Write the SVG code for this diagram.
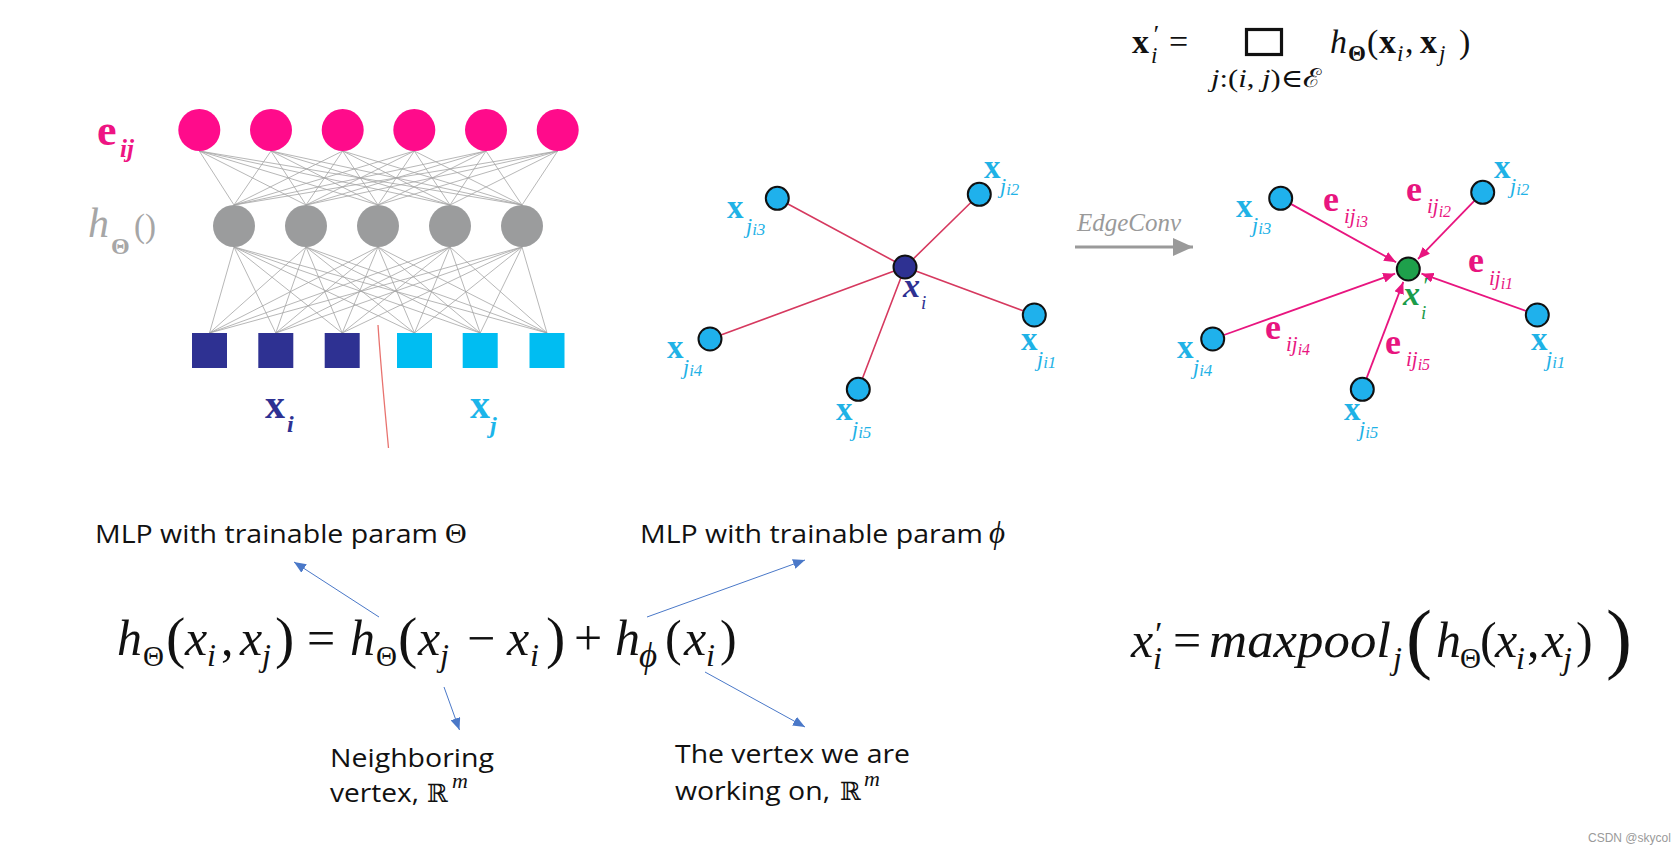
<svg xmlns="http://www.w3.org/2000/svg" width="1678" height="853" viewBox="0 0 1678 853">
<style>
.bg{fill:#ffffff}
.nnl{stroke:#a4a4a4;stroke-width:0.8;fill:none}
.pink{fill:#ff0b8b}
.gray{fill:#9b9c9d}
.dsq{fill:#2e3192}
.csq{fill:#00bdf2}
.edge{stroke:#d6395f;stroke-width:1.6;fill:none}
.pedge{stroke:#e8157f;stroke-width:1.8;fill:none}
.blue{stroke:#4a78c8;stroke-width:1;fill:none}
.nb{fill:#1fb1ec;stroke:#111;stroke-width:2}
.serif{font-family:"Liberation Serif","DejaVu Serif",serif}
.lab{font-family:"Liberation Serif","DejaVu Serif",serif;font-weight:bold;font-size:33px;fill:#1fb2e6}
.sub{font-family:"Liberation Serif","DejaVu Serif",serif;font-style:italic;font-size:22px;fill:#1fb2e6}
.elab{font-family:"Liberation Serif","DejaVu Serif",serif;font-weight:bold;font-size:36px;fill:#e8157f}
.esub{font-family:"Liberation Serif","DejaVu Serif",serif;font-style:italic;font-size:21px;fill:#e8157f}
.sans{font-family:"Open Sans","Noto Sans","Liberation Sans",sans-serif;font-size:26px;fill:#111}
.m{font-family:"Liberation Serif","DejaVu Serif",serif;font-style:italic;font-size:50px;fill:#111}
.mu{font-family:"Liberation Serif","DejaVu Serif",serif;font-size:50px;fill:#111}
.ms{font-family:"Liberation Serif","DejaVu Serif",serif;font-style:italic;font-size:32px;fill:#111}
.msu{font-family:"Liberation Serif","DejaVu Serif",serif;font-size:29px;fill:#111}
.tf{font-family:"Liberation Serif","DejaVu Serif",serif;font-size:34px;fill:#111}
.tfs{font-family:"Liberation Serif","DejaVu Serif",serif;font-size:23px;fill:#111}
</style>
<defs>
<marker id="ab" markerUnits="userSpaceOnUse" markerWidth="13" markerHeight="10" refX="12" refY="5" orient="auto"><path d="M0,0 L12,5 L0,10 z" fill="#4a78c8"/></marker>
<marker id="ap" markerUnits="userSpaceOnUse" markerWidth="13" markerHeight="10" refX="12" refY="5" orient="auto"><path d="M0,0 L12,5 L0,10 z" fill="#e8157f"/></marker>
<marker id="ag" markerUnits="userSpaceOnUse" markerWidth="22" markerHeight="18" refX="20" refY="9" orient="auto"><path d="M0,0 L20,9 L0,18 z" fill="#9a9a9a"/></marker>
</defs>
<rect class="bg" x="0" y="0" width="1678" height="853"/>

<!-- Neural network connections -->
<g id="nn-connectors">
<path class="nnl" d="M199.3,151 L234,205 M199.3,151 L306,205 M199.3,151 L378,205 M199.3,151 L450,205 M199.3,151 L522,205
M271,151 L234,205 M271,151 L306,205 M271,151 L378,205 M271,151 L450,205 M271,151 L522,205
M342.7,151 L234,205 M342.7,151 L306,205 M342.7,151 L378,205 M342.7,151 L450,205 M342.7,151 L522,205
M414.3,151 L234,205 M414.3,151 L306,205 M414.3,151 L378,205 M414.3,151 L450,205 M414.3,151 L522,205
M486,151 L234,205 M486,151 L306,205 M486,151 L378,205 M486,151 L450,205 M486,151 L522,205
M557.7,151 L234,205 M557.7,151 L306,205 M557.7,151 L378,205 M557.7,151 L450,205 M557.7,151 L522,205"/>
<path class="nnl" d="M234,247 L209.5,333 M234,247 L275.8,333 M234,247 L342.2,333 M234,247 L414.5,333 M234,247 L480.2,333 M234,247 L547,333
M306,247 L209.5,333 M306,247 L275.8,333 M306,247 L342.2,333 M306,247 L414.5,333 M306,247 L480.2,333 M306,247 L547,333
M378,247 L209.5,333 M378,247 L275.8,333 M378,247 L342.2,333 M378,247 L414.5,333 M378,247 L480.2,333 M378,247 L547,333
M450,247 L209.5,333 M450,247 L275.8,333 M450,247 L342.2,333 M450,247 L414.5,333 M450,247 L480.2,333 M450,247 L547,333
M522,247 L209.5,333 M522,247 L275.8,333 M522,247 L342.2,333 M522,247 L414.5,333 M522,247 L480.2,333 M522,247 L547,333"/>
</g>

<!-- Neural network nodes -->
<g id="nn-edge-layer">
<circle class="pink" cx="199.3" cy="130" r="21"/>
<circle class="pink" cx="271" cy="130" r="21"/>
<circle class="pink" cx="342.7" cy="130" r="21"/>
<circle class="pink" cx="414.3" cy="130" r="21"/>
<circle class="pink" cx="486" cy="130" r="21"/>
<circle class="pink" cx="557.7" cy="130" r="21"/>
</g>
<g id="nn-hidden-layer">
<circle class="gray" cx="234" cy="226" r="21"/>
<circle class="gray" cx="306" cy="226" r="21"/>
<circle class="gray" cx="378" cy="226" r="21"/>
<circle class="gray" cx="450" cy="226" r="21"/>
<circle class="gray" cx="522" cy="226" r="21"/>
</g>
<g id="nn-input-layer">
<rect class="dsq" x="192" y="333" width="35" height="35"/>
<rect class="dsq" x="258.3" y="333" width="35" height="35"/>
<rect class="dsq" x="324.7" y="333" width="35" height="35"/>
<rect class="csq" x="397" y="333" width="35" height="35"/>
<rect class="csq" x="462.7" y="333" width="35" height="35"/>
<rect class="csq" x="529.5" y="333" width="35" height="35"/>
</g>
<g id="nn-labels">
<text class="serif" x="97" y="145" style="font-size:44px;font-weight:bold;fill:#ee1483">e</text>
<text class="serif" x="120" y="157" style="font-size:25px;font-weight:bold;font-style:italic;fill:#ee1483">ij</text>
<text class="serif" x="88" y="237" style="font-size:42px;font-style:italic;fill:#a6a6a6">h</text>
<text class="serif" x="111" y="254" style="font-size:24px;font-weight:bold;fill:#a6a6a6">Θ</text>
<text class="serif" x="134" y="237" style="font-size:33px;fill:#a6a6a6">()</text>
<text class="serif" x="265" y="418" style="font-size:40px;font-weight:bold;fill:#2e3192">x</text>
<text class="serif" x="287" y="432" style="font-size:24px;font-weight:bold;font-style:italic;fill:#2e3192">i</text>
<text class="serif" x="470" y="418" style="font-size:40px;font-weight:bold;fill:#1cb5ea">x</text>
<text class="serif" x="490" y="433" style="font-size:24px;font-weight:bold;font-style:italic;fill:#1cb5ea">j</text>
</g>
<path id="red-mark" d="M378,325 C381,370 385,410 388.5,448" stroke="#e8736f" stroke-width="1.3" fill="none"/>

<!-- Left graph -->
<g id="left-graph-edges">
<path class="edge" d="M905,267 L777.3,198.3 M905,267 L979.3,194.3 M905,267 L1034.3,315 M905,267 L710,339 M905,267 L858.3,389.3"/>
</g>
<g id="left-graph-nodes">
<g id="l-center"><circle cx="905" cy="267" r="11.5" fill="#2e3192" stroke="#111" stroke-width="2"/>
<text class="serif" x="903" y="297" style="font-size:34px;font-weight:bold;font-style:italic;fill:#2e3192">x</text>
<text class="serif" x="921" y="309" style="font-size:19px;font-style:italic;fill:#2e3192">i</text></g>
<g id="l-n3"><circle class="nb" cx="777.3" cy="198.3" r="11.5"/>
<text class="lab" x="727" y="218">x</text><text class="sub" x="746" y="233">j<tspan style="font-size:17px" dy="2">i3</tspan></text></g>
<g id="l-n2"><circle class="nb" cx="979.3" cy="194.3" r="11.5"/>
<text class="lab" x="984" y="178">x</text><text class="sub" x="1000" y="193">j<tspan style="font-size:17px" dy="2">i2</tspan></text></g>
<g id="l-n1"><circle class="nb" cx="1034.3" cy="315" r="11.5"/>
<text class="lab" x="1021" y="350">x</text><text class="sub" x="1037" y="366">j<tspan style="font-size:17px" dy="2">i1</tspan></text></g>
<g id="l-n4"><circle class="nb" cx="710" cy="339" r="11.5"/>
<text class="lab" x="667" y="358">x</text><text class="sub" x="683" y="374">j<tspan style="font-size:17px" dy="2">i4</tspan></text></g>
<g id="l-n5"><circle class="nb" cx="858.3" cy="389.3" r="11.5"/>
<text class="lab" x="836" y="420">x</text><text class="sub" x="852" y="436">j<tspan style="font-size:17px" dy="2">i5</tspan></text></g>
</g>

<!-- EdgeConv arrow -->
<g id="edgeconv">
<text class="serif" x="1077" y="231" style="font-size:25px;font-style:italic;fill:#9a9a9a">EdgeConv</text>
<line x1="1075" y1="247" x2="1193" y2="247" stroke="#9a9a9a" stroke-width="3" marker-end="url(#ag)"/>
</g>

<!-- Right graph -->
<g id="right-graph-edges">
<line class="pedge" x1="1291.2" y1="204.1" x2="1396.1" y2="262.2" marker-end="url(#ap)"/>
<line class="pedge" x1="1474.3" y1="200.9" x2="1418" y2="259" marker-end="url(#ap)"/>
<line class="pedge" x1="1526" y1="311" x2="1421.5" y2="273.7" marker-end="url(#ap)"/>
<line class="pedge" x1="1224" y1="335" x2="1395.1" y2="273.7" marker-end="url(#ap)"/>
<line class="pedge" x1="1366.6" y1="378.1" x2="1403.3" y2="281.9" marker-end="url(#ap)"/>
</g>
<g id="right-graph-nodes">
<g id="r-center"><circle cx="1408.3" cy="269" r="11.5" fill="#1ea04b" stroke="#111" stroke-width="2"/>
<text class="serif" x="1403" y="305" style="font-size:34px;font-weight:bold;font-style:italic;fill:#1a9c4a">x</text>
<text class="serif" x="1422" y="293" style="font-size:24px;font-style:italic;fill:#1a9c4a">′</text>
<text class="serif" x="1421" y="319" style="font-size:19px;font-style:italic;fill:#1a9c4a">i</text></g>
<g id="r-n3"><circle class="nb" cx="1280.7" cy="198.3" r="11.5"/>
<text class="lab" x="1236" y="217">x</text><text class="sub" x="1252" y="232">j<tspan style="font-size:17px" dy="2">i3</tspan></text></g>
<g id="r-n2"><circle class="nb" cx="1482.7" cy="192.3" r="11.5"/>
<text class="lab" x="1494" y="178">x</text><text class="sub" x="1510" y="193">j<tspan style="font-size:17px" dy="2">i2</tspan></text></g>
<g id="r-n1"><circle class="nb" cx="1537.3" cy="315" r="11.5"/>
<text class="lab" x="1531" y="350">x</text><text class="sub" x="1546" y="366">j<tspan style="font-size:17px" dy="2">i1</tspan></text></g>
<g id="r-n4"><circle class="nb" cx="1212.7" cy="339" r="11.5"/>
<text class="lab" x="1177" y="358">x</text><text class="sub" x="1193" y="374">j<tspan style="font-size:17px" dy="2">i4</tspan></text></g>
<g id="r-n5"><circle class="nb" cx="1362.3" cy="389.3" r="11.5"/>
<text class="lab" x="1344" y="420">x</text><text class="sub" x="1359" y="436">j<tspan style="font-size:17px" dy="2">i5</tspan></text></g>
</g>
<g id="right-edge-labels">
<text class="elab" x="1323" y="211">e</text><text class="esub" x="1344" y="223">ij<tspan style="font-size:16px" dy="4">i3</tspan></text>
<text class="elab" x="1406" y="201">e</text><text class="esub" x="1427" y="213">ij<tspan style="font-size:16px" dy="4">i2</tspan></text>
<text class="elab" x="1468" y="272">e</text><text class="esub" x="1489" y="285">ij<tspan style="font-size:16px" dy="4">i1</tspan></text>
<text class="elab" x="1265" y="339">e</text><text class="esub" x="1286" y="351">ij<tspan style="font-size:16px" dy="4">i4</tspan></text>
<text class="elab" x="1385" y="354">e</text><text class="esub" x="1406" y="366">ij<tspan style="font-size:16px" dy="4">i5</tspan></text>
</g>

<!-- Top formula -->
<g id="top-formula">
<text class="tf" x="1132" y="53" style="font-weight:bold">x</text>
<text class="tf" x="1152" y="43" style="font-size:26px;font-style:italic">′</text>
<text class="tfs" x="1151" y="63" style="font-style:italic">i</text>
<text class="tf" x="1169" y="53">=</text>
<rect x="1246.5" y="29.5" width="35" height="25" fill="none" stroke="#111" stroke-width="3.2"/>
<text class="tf" x="1330" y="53" style="font-style:italic">h</text>
<text class="tfs" x="1348" y="61" style="font-weight:bold">Θ</text>
<text class="tf" x="1367" y="53">(</text>
<text class="tf" x="1379" y="53" style="font-weight:bold">x</text>
<text class="tfs" x="1397" y="61" style="font-style:italic">i</text>
<text class="tf" x="1405" y="53">,</text>
<text class="tf" x="1420" y="53" style="font-weight:bold">x</text>
<text class="tfs" x="1439" y="61" style="font-style:italic">j</text>
<text class="tf" x="1459" y="53">)</text>
<text class="tfs" x="1211" y="87" textLength="111" lengthAdjust="spacingAndGlyphs" style="font-size:26px;font-style:italic">j<tspan style="font-style:normal">:(</tspan>i<tspan style="font-style:normal">, </tspan>j<tspan style="font-style:normal">)∈ℰ</tspan></text>
</g>

<!-- Bottom-left formula -->
<g id="main-formula">
<text class="m" x="117" y="655">h</text>
<text class="msu" x="143" y="666">Θ</text>
<text class="mu" x="166" y="657" style="font-size:58px">(</text>
<text class="m" x="185" y="655">x</text>
<text class="ms" x="207" y="666">i</text>
<text class="mu" x="221" y="655">,</text>
<text class="m" x="240" y="655">x</text>
<text class="ms" x="262" y="666">j</text>
<text class="mu" x="275" y="657" style="font-size:58px">)</text>
<text class="mu" x="307" y="655">=</text>
<text class="m" x="350" y="655">h</text>
<text class="msu" x="376" y="666">Θ</text>
<text class="mu" x="398" y="657" style="font-size:58px">(</text>
<text class="m" x="418" y="655">x</text>
<text class="ms" x="440" y="666">j</text>
<text class="mu" x="467" y="655">−</text>
<text class="m" x="507" y="655">x</text>
<text class="ms" x="530" y="666">i</text>
<text class="mu" x="546" y="657" style="font-size:58px">)</text>
<text class="mu" x="574" y="655">+</text>
<text class="m" x="615" y="655">h</text>
<text class="ms" x="639" y="667" style="font-size:35px">ϕ</text>
<text class="mu" x="665" y="655">(</text>
<text class="m" x="684" y="655">x</text>
<text class="ms" x="706" y="666">i</text>
<text class="mu" x="720" y="655">)</text>
</g>
<g id="annot-theta">
<text class="sans" x="95" y="543" textLength="343" lengthAdjust="spacingAndGlyphs">MLP with trainable param</text>
<text class="serif" x="445" y="543" style="font-size:30px;fill:#111">Θ</text>
</g>
<g id="annot-phi">
<text class="sans" x="640" y="543" textLength="343" lengthAdjust="spacingAndGlyphs">MLP with trainable param</text>
<text class="serif" x="989" y="543" style="font-size:31px;font-style:italic;fill:#111">ϕ</text>
</g>
<g id="annot-neighbor">
<text class="sans" x="330" y="767" textLength="164" lengthAdjust="spacingAndGlyphs">Neighboring</text>
<text class="sans" x="330" y="802" textLength="89" lengthAdjust="spacingAndGlyphs">vertex,</text>
<text x="427" y="802" font-family="DejaVu Serif,serif" font-size="25" fill="#111">ℝ</text>
<text class="serif" x="452" y="788" style="font-size:22px;font-style:italic;fill:#111">m</text>
</g>
<g id="annot-vertex">
<text class="sans" x="675" y="763" textLength="235" lengthAdjust="spacingAndGlyphs">The vertex we are</text>
<text class="sans" x="675" y="800" textLength="155" lengthAdjust="spacingAndGlyphs">working on,</text>
<text x="840" y="800" font-family="DejaVu Serif,serif" font-size="25" fill="#111">ℝ</text>
<text class="serif" x="864" y="786" style="font-size:22px;font-style:italic;fill:#111">m</text>
</g>
<g id="annot-arrows">
<line class="blue" x1="379" y1="617" x2="294" y2="562" marker-end="url(#ab)"/>
<line class="blue" x1="647" y1="617" x2="805" y2="560" marker-end="url(#ab)"/>
<line class="blue" x1="444" y1="687" x2="459.5" y2="730" marker-end="url(#ab)"/>
<line class="blue" x1="705" y1="672" x2="805" y2="727" marker-end="url(#ab)"/>
</g>

<!-- Right formula -->
<g id="maxpool-formula">
<text class="m" x="1131" y="657">x</text>
<text class="mu" x="1153" y="645" style="font-size:34px;font-style:italic">′</text>
<text class="ms" x="1153" y="669">i</text>
<text class="mu" x="1173" y="657">=</text>
<text class="m" x="1209" y="657" textLength="182" lengthAdjust="spacingAndGlyphs">maxpool</text>
<text class="ms" x="1393" y="669">j</text>
<text class="mu" x="1406" y="664" style="font-size:78px">(</text>
<text class="m" x="1436" y="657">h</text>
<text class="msu" x="1460" y="668">Θ</text>
<text class="mu" x="1480" y="657">(</text>
<text class="m" x="1495" y="657">x</text>
<text class="ms" x="1516" y="669">i</text>
<text class="mu" x="1527" y="657">,</text>
<text class="m" x="1542" y="657">x</text>
<text class="ms" x="1563" y="669">j</text>
<text class="mu" x="1576" y="657">)</text>
<text class="mu" x="1606" y="664" style="font-size:78px">)</text>
</g>

<text id="watermark" x="1588" y="842" font-family="Liberation Sans,sans-serif" font-size="12" fill="#9a9a9a">CSDN @skycol</text>
</svg>
